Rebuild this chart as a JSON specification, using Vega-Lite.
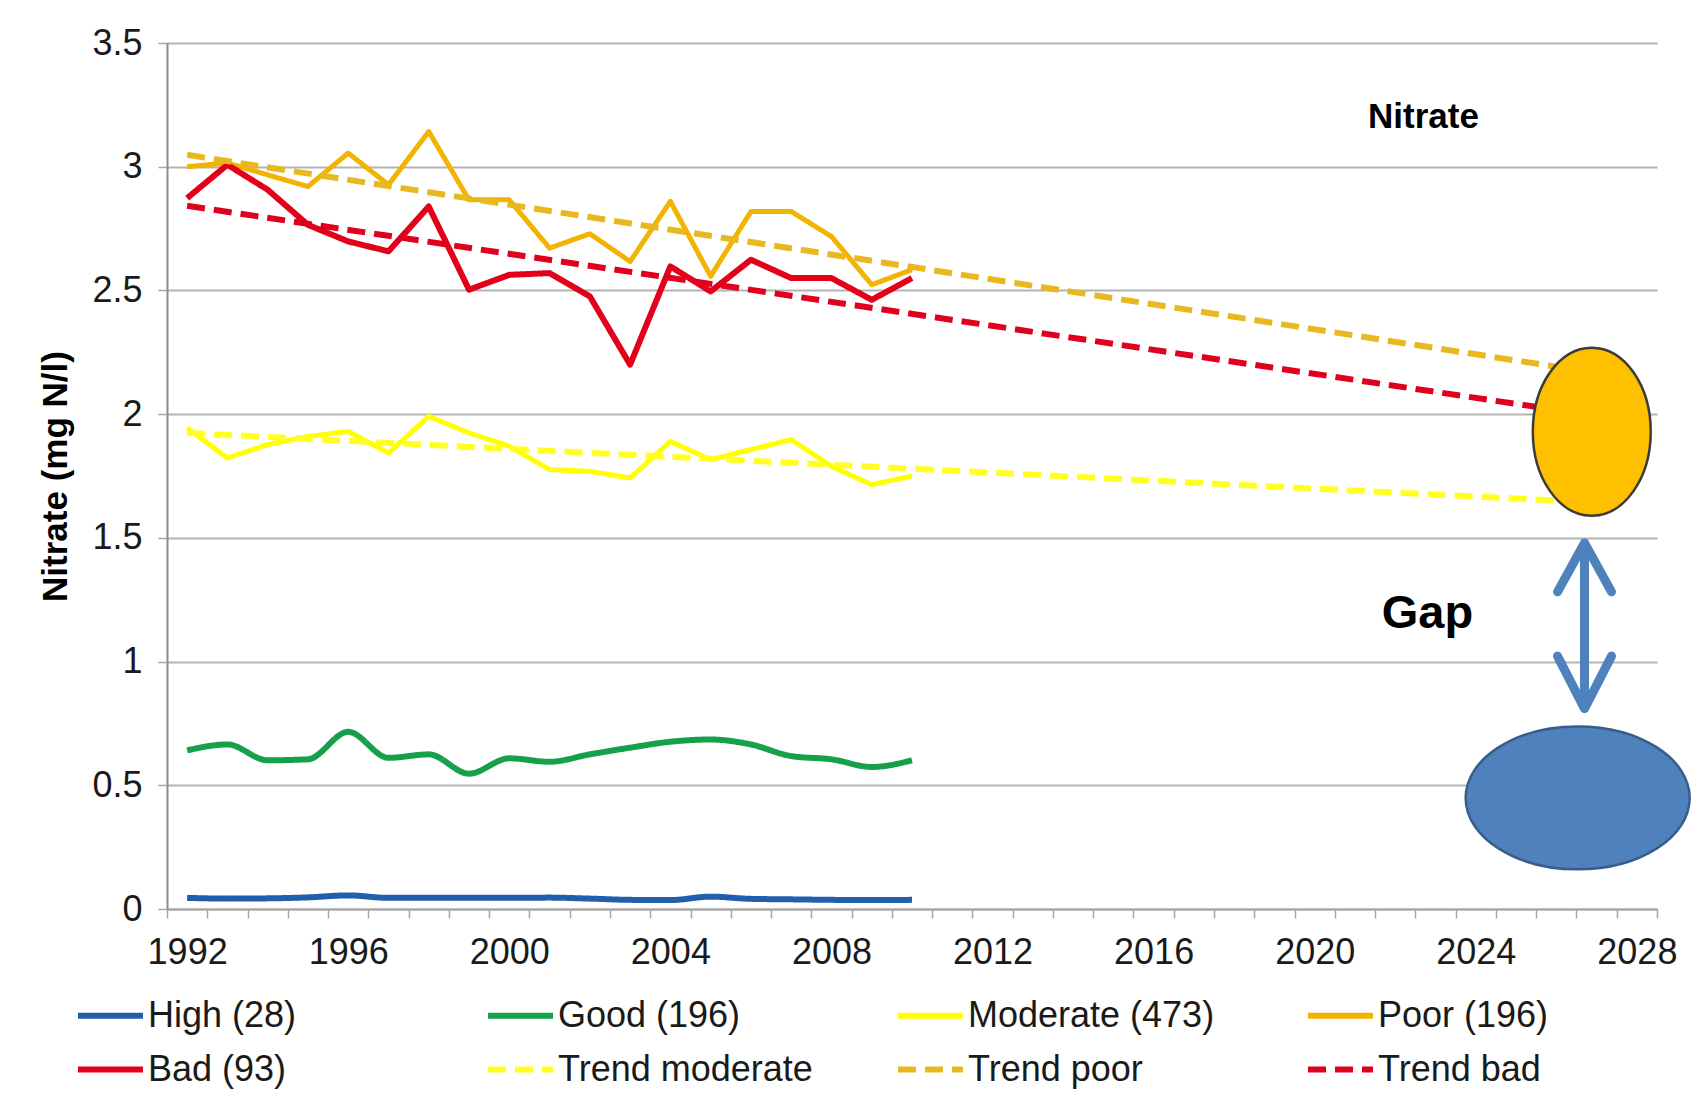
{
  "$schema": "https://vega.github.io/schema/vega-lite/v6.json",
  "width": 1490,
  "height": 866,
  "autosize": {"type": "none"},
  "padding": {"left": 167, "top": 43, "right": 37, "bottom": 194},
  "background": "white",
  "config": {
    "font": "Liberation Sans",
    "view": {"stroke": null},
    "axis": {"labelFont": "Liberation Sans", "labelColor": "#1a1a1a", "titleFont": "Liberation Sans", "titleColor": "#000000"},
    "legend": {
      "symbolType": "stroke",
      "symbolSize": 4225,
      "symbolStrokeWidth": 6,
      "labelFontSize": 36,
      "labelFont": "Liberation Sans",
      "labelColor": "#1a1a1a",
      "labelOffset": 2,
      "rowPadding": -12,
      "columnPadding": 73,
      "gridAlign": "all",
      "labelLimit": 500
    }
  },
  "datasets": {
    "obs": [
      {"year": 1992, "series": "High (28)", "v": 0.045},
      {"year": 1993, "series": "High (28)", "v": 0.042},
      {"year": 1994, "series": "High (28)", "v": 0.043},
      {"year": 1995, "series": "High (28)", "v": 0.047},
      {"year": 1996, "series": "High (28)", "v": 0.055},
      {"year": 1997, "series": "High (28)", "v": 0.045},
      {"year": 1998, "series": "High (28)", "v": 0.045},
      {"year": 1999, "series": "High (28)", "v": 0.045},
      {"year": 2000, "series": "High (28)", "v": 0.045},
      {"year": 2001, "series": "High (28)", "v": 0.046},
      {"year": 2002, "series": "High (28)", "v": 0.042},
      {"year": 2003, "series": "High (28)", "v": 0.037},
      {"year": 2004, "series": "High (28)", "v": 0.036},
      {"year": 2005, "series": "High (28)", "v": 0.05},
      {"year": 2006, "series": "High (28)", "v": 0.041},
      {"year": 2007, "series": "High (28)", "v": 0.039},
      {"year": 2008, "series": "High (28)", "v": 0.037},
      {"year": 2009, "series": "High (28)", "v": 0.036},
      {"year": 2010, "series": "High (28)", "v": 0.037},
      {"year": 1992, "series": "Good (196)", "v": 0.641},
      {"year": 1993, "series": "Good (196)", "v": 0.665},
      {"year": 1994, "series": "Good (196)", "v": 0.601},
      {"year": 1995, "series": "Good (196)", "v": 0.605},
      {"year": 1996, "series": "Good (196)", "v": 0.716},
      {"year": 1997, "series": "Good (196)", "v": 0.611},
      {"year": 1998, "series": "Good (196)", "v": 0.625},
      {"year": 1999, "series": "Good (196)", "v": 0.547},
      {"year": 2000, "series": "Good (196)", "v": 0.609},
      {"year": 2001, "series": "Good (196)", "v": 0.595},
      {"year": 2002, "series": "Good (196)", "v": 0.625},
      {"year": 2003, "series": "Good (196)", "v": 0.652},
      {"year": 2004, "series": "Good (196)", "v": 0.676},
      {"year": 2005, "series": "Good (196)", "v": 0.685},
      {"year": 2006, "series": "Good (196)", "v": 0.665},
      {"year": 2007, "series": "Good (196)", "v": 0.618},
      {"year": 2008, "series": "Good (196)", "v": 0.605},
      {"year": 2009, "series": "Good (196)", "v": 0.574},
      {"year": 2010, "series": "Good (196)", "v": 0.601},
      {"year": 1992, "series": "Moderate (473)", "v": 1.944},
      {"year": 1993, "series": "Moderate (473)", "v": 1.823},
      {"year": 1994, "series": "Moderate (473)", "v": 1.877},
      {"year": 1995, "series": "Moderate (473)", "v": 1.91},
      {"year": 1996, "series": "Moderate (473)", "v": 1.93},
      {"year": 1997, "series": "Moderate (473)", "v": 1.843},
      {"year": 1998, "series": "Moderate (473)", "v": 1.991},
      {"year": 1999, "series": "Moderate (473)", "v": 1.924},
      {"year": 2000, "series": "Moderate (473)", "v": 1.87},
      {"year": 2001, "series": "Moderate (473)", "v": 1.776},
      {"year": 2002, "series": "Moderate (473)", "v": 1.769},
      {"year": 2003, "series": "Moderate (473)", "v": 1.742},
      {"year": 2004, "series": "Moderate (473)", "v": 1.89},
      {"year": 2005, "series": "Moderate (473)", "v": 1.816},
      {"year": 2006, "series": "Moderate (473)", "v": 1.857},
      {"year": 2007, "series": "Moderate (473)", "v": 1.897},
      {"year": 2008, "series": "Moderate (473)", "v": 1.789},
      {"year": 2009, "series": "Moderate (473)", "v": 1.715},
      {"year": 2010, "series": "Moderate (473)", "v": 1.75},
      {"year": 1992, "series": "Poor (196)", "v": 3.0},
      {"year": 1993, "series": "Poor (196)", "v": 3.015},
      {"year": 1994, "series": "Poor (196)", "v": 2.967},
      {"year": 1995, "series": "Poor (196)", "v": 2.92},
      {"year": 1996, "series": "Poor (196)", "v": 3.055},
      {"year": 1997, "series": "Poor (196)", "v": 2.927},
      {"year": 1998, "series": "Poor (196)", "v": 3.142},
      {"year": 1999, "series": "Poor (196)", "v": 2.866},
      {"year": 2000, "series": "Poor (196)", "v": 2.866},
      {"year": 2001, "series": "Poor (196)", "v": 2.671},
      {"year": 2002, "series": "Poor (196)", "v": 2.729},
      {"year": 2003, "series": "Poor (196)", "v": 2.617},
      {"year": 2004, "series": "Poor (196)", "v": 2.86},
      {"year": 2005, "series": "Poor (196)", "v": 2.557},
      {"year": 2006, "series": "Poor (196)", "v": 2.819},
      {"year": 2007, "series": "Poor (196)", "v": 2.819},
      {"year": 2008, "series": "Poor (196)", "v": 2.718},
      {"year": 2009, "series": "Poor (196)", "v": 2.523},
      {"year": 2010, "series": "Poor (196)", "v": 2.584},
      {"year": 1992, "series": "Bad (93)", "v": 2.873},
      {"year": 1993, "series": "Bad (93)", "v": 3.008},
      {"year": 1994, "series": "Bad (93)", "v": 2.907},
      {"year": 1995, "series": "Bad (93)", "v": 2.765},
      {"year": 1996, "series": "Bad (93)", "v": 2.698},
      {"year": 1997, "series": "Bad (93)", "v": 2.658},
      {"year": 1998, "series": "Bad (93)", "v": 2.839},
      {"year": 1999, "series": "Bad (93)", "v": 2.503},
      {"year": 2000, "series": "Bad (93)", "v": 2.563},
      {"year": 2001, "series": "Bad (93)", "v": 2.57},
      {"year": 2002, "series": "Bad (93)", "v": 2.476},
      {"year": 2003, "series": "Bad (93)", "v": 2.2},
      {"year": 2004, "series": "Bad (93)", "v": 2.597},
      {"year": 2005, "series": "Bad (93)", "v": 2.496},
      {"year": 2006, "series": "Bad (93)", "v": 2.624},
      {"year": 2007, "series": "Bad (93)", "v": 2.55},
      {"year": 2008, "series": "Bad (93)", "v": 2.55},
      {"year": 2009, "series": "Bad (93)", "v": 2.462},
      {"year": 2010, "series": "Bad (93)", "v": 2.55}
    ],
    "trend": [
      {"year": 1992, "series": "Trend moderate", "v": 1.924},
      {"year": 2026.5, "series": "Trend moderate", "v": 1.647},
      {"year": 1992, "series": "Trend poor", "v": 3.048},
      {"year": 2026.5, "series": "Trend poor", "v": 2.179},
      {"year": 1992, "series": "Trend bad", "v": 2.842},
      {"year": 2026.5, "series": "Trend bad", "v": 2.005}
    ]
  },
  "encoding": {
    "y": {
      "field": "v",
      "type": "quantitative",
      "scale": {"domain": [0, 3.5], "nice": false, "zero": true},
      "axis": {
        "title": "Nitrate (mg N/l)",
        "values": [0, 0.5, 1, 1.5, 2, 2.5, 3, 3.5],
        "format": "~g",
        "labelFontSize": 36,
        "labelPadding": 16,
        "tickSize": 9,
        "tickColor": "#A6A6A6",
        "tickWidth": 1.5,
        "domainColor": "#8C8C8C",
        "domainWidth": 2,
        "grid": true,
        "gridColor": "#B3B3B3",
        "gridWidth": 2,
        "titleFontSize": 35,
        "titleFontWeight": "bold",
        "titlePadding": 18
      }
    }
  },
  "layer": [
    {
      "data": {"name": "obs"},
      "transform": [{"filter": {"field": "series", "oneOf": ["High (28)", "Good (196)"]}}],
      "mark": {"type": "line", "strokeWidth": 6, "interpolate": "monotone", "strokeJoin": "round"},
      "encoding": {
        "x": {
          "field": "year", "type": "quantitative",
          "scale": {"domain": [1991.5, 2028.5], "nice": false, "zero": false},
          "axis": {
            "orient": "bottom",
            "values": [1991.5, 1992.5, 1993.5, 1994.5, 1995.5, 1996.5, 1997.5, 1998.5, 1999.5, 2000.5, 2001.5, 2002.5, 2003.5, 2004.5, 2005.5, 2006.5, 2007.5, 2008.5, 2009.5, 2010.5, 2011.5, 2012.5, 2013.5, 2014.5, 2015.5, 2016.5, 2017.5, 2018.5, 2019.5, 2020.5, 2021.5, 2022.5, 2023.5, 2024.5, 2025.5, 2026.5, 2027.5, 2028.5],
            "labels": false, "tickSize": 9, "tickColor": "#A6A6A6", "tickWidth": 1.5,
            "domainColor": "#A6A6A6", "domainWidth": 2, "grid": false, "title": null
          }
        },
        "color": {"field": "series", "type": "nominal",
          "scale": {"domain": ["High (28)", "Good (196)", "Moderate (473)", "Poor (196)", "Bad (93)", "Trend moderate", "Trend poor", "Trend bad"],
                    "range": ["#1F5FAD", "#17A04C", "#FFFF00", "#F2B400", "#E3001B", "#FFFF22", "#E8B820", "#E0001E"]},
          "legend": {"orient": "none", "legendX": -92, "legendY": 937, "columns": 4, "title": null, "direction": "horizontal"}},
        "strokeDash": {"field": "series", "type": "nominal",
          "scale": {"domain": ["High (28)", "Good (196)", "Moderate (473)", "Poor (196)", "Bad (93)", "Trend moderate", "Trend poor", "Trend bad"],
                    "range": [[1, 0], [1, 0], [1, 0], [1, 0], [1, 0], [18, 9], [18, 9], [18, 9]]},
          "legend": {"orient": "none", "legendX": -92, "legendY": 937, "columns": 4, "title": null, "direction": "horizontal"}}
      }
    },
    {
      "data": {"name": "obs"},
      "transform": [{"filter": {"field": "series", "oneOf": ["Moderate (473)", "Poor (196)"]}}],
      "mark": {"type": "line", "strokeWidth": 5, "strokeJoin": "round"},
      "encoding": {
        "x": {
          "field": "year", "type": "quantitative",
          "scale": {"domain": [1991.5, 2028.5], "nice": false, "zero": false},
          "axis": {
            "orient": "bottom",
            "values": [1992, 1996, 2000, 2004, 2008, 2012, 2016, 2020, 2024, 2028],
            "format": "d", "ticks": false, "domain": false, "grid": false, "title": null,
            "labelFontSize": 36, "labelPadding": 26, "labelFlush": false, "labelOverlap": false
          }
        },
        "color": {"field": "series", "type": "nominal"},
        "strokeDash": {"field": "series", "type": "nominal"}
      }
    },
    {
      "data": {"name": "obs"},
      "transform": [{"filter": {"field": "series", "equal": "Bad (93)"}}],
      "mark": {"type": "line", "strokeWidth": 6, "strokeJoin": "round"},
      "encoding": {
        "x": {"field": "year", "type": "quantitative", "scale": {"domain": [1991.5, 2028.5], "nice": false, "zero": false}, "axis": null},
        "color": {"field": "series", "type": "nominal"},
        "strokeDash": {"field": "series", "type": "nominal"}
      }
    },
    {
      "data": {"name": "trend"},
      "mark": {"type": "line", "strokeWidth": 6},
      "encoding": {
        "x": {"field": "year", "type": "quantitative", "scale": {"domain": [1991.5, 2028.5], "nice": false, "zero": false}, "axis": null},
        "color": {"field": "series", "type": "nominal"},
        "strokeDash": {"field": "series", "type": "nominal"}
      }
    },
    {
      "data": {"values": [{"year": 2026.88, "v": 1.929}]},
      "mark": {"type": "point", "filled": true, "opacity": 1, "fill": "#FFC000", "stroke": "#3B3B3B", "strokeWidth": 2.5, "size": 28224,
               "shape": "M0.702,0 C0.702,0.552 0.388,1 0,1 C-0.388,1 -0.702,0.552 -0.702,0 C-0.702,-0.552 -0.388,-1 0,-1 C0.388,-1 0.702,-0.552 0.702,0 Z"},
      "encoding": {
        "x": {"field": "year", "type": "quantitative", "scale": {"domain": [1991.5, 2028.5], "nice": false, "zero": false}, "axis": null}
      }
    },
    {
      "data": {"values": [{"year": 2026.53, "v": 0.449}]},
      "mark": {"type": "point", "filled": true, "opacity": 1, "fill": "#4F81BD", "stroke": "#385D8A", "strokeWidth": 2.5, "size": 50176,
               "shape": "M1,0 C1,0.352 0.552,0.638 0,0.638 C-0.552,0.638 -1,0.352 -1,0 C-1,-0.352 -0.552,-0.638 0,-0.638 C0.552,-0.638 1,-0.352 1,0 Z"},
      "encoding": {
        "x": {"field": "year", "type": "quantitative", "scale": {"domain": [1991.5, 2028.5], "nice": false, "zero": false}, "axis": null}
      }
    },
    {
      "data": {"values": [{"year": 2026.7, "v": 1.47, "v2": 0.82}]},
      "mark": {"type": "rule", "color": "#4F81BD", "strokeWidth": 9},
      "encoding": {
        "x": {"field": "year", "type": "quantitative", "scale": {"domain": [1991.5, 2028.5], "nice": false, "zero": false}, "axis": null},
        "y2": {"field": "v2"}
      }
    },
    {
      "data": {"values": [{"year": 2026.7, "v": 1.48}]},
      "mark": {"type": "point", "filled": false, "opacity": 1, "stroke": "#4F81BD", "strokeWidth": 9, "strokeCap": "round", "strokeJoin": "round", "size": 10000,
               "shape": "M-0.54,0.98 L0,0 L0.54,0.98"},
      "encoding": {
        "x": {"field": "year", "type": "quantitative", "scale": {"domain": [1991.5, 2028.5], "nice": false, "zero": false}, "axis": null}
      }
    },
    {
      "data": {"values": [{"year": 2026.7, "v": 0.81}]},
      "mark": {"type": "point", "filled": false, "opacity": 1, "stroke": "#4F81BD", "strokeWidth": 9, "strokeCap": "round", "strokeJoin": "round", "size": 10000,
               "shape": "M-0.54,-1.05 L0,0 L0.54,-1.05"},
      "encoding": {
        "x": {"field": "year", "type": "quantitative", "scale": {"domain": [1991.5, 2028.5], "nice": false, "zero": false}, "axis": null}
      }
    },
    {
      "data": {"values": [{"year": 2022.7, "v": 3.2, "label": "Nitrate"}]},
      "mark": {"type": "text", "fontSize": 35, "fontWeight": "bold", "font": "Liberation Sans", "color": "#000000", "align": "center", "baseline": "middle"},
      "encoding": {
        "x": {"field": "year", "type": "quantitative", "scale": {"domain": [1991.5, 2028.5], "nice": false, "zero": false}, "axis": null},
        "text": {"field": "label"}
      }
    },
    {
      "data": {"values": [{"year": 2022.8, "v": 1.194, "label": "Gap"}]},
      "mark": {"type": "text", "fontSize": 47, "fontWeight": "bold", "font": "Liberation Sans", "color": "#000000", "align": "center", "baseline": "middle"},
      "encoding": {
        "x": {"field": "year", "type": "quantitative", "scale": {"domain": [1991.5, 2028.5], "nice": false, "zero": false}, "axis": null},
        "text": {"field": "label"}
      }
    }
  ],
  "resolve": {"axis": {"x": "independent"}}
}
